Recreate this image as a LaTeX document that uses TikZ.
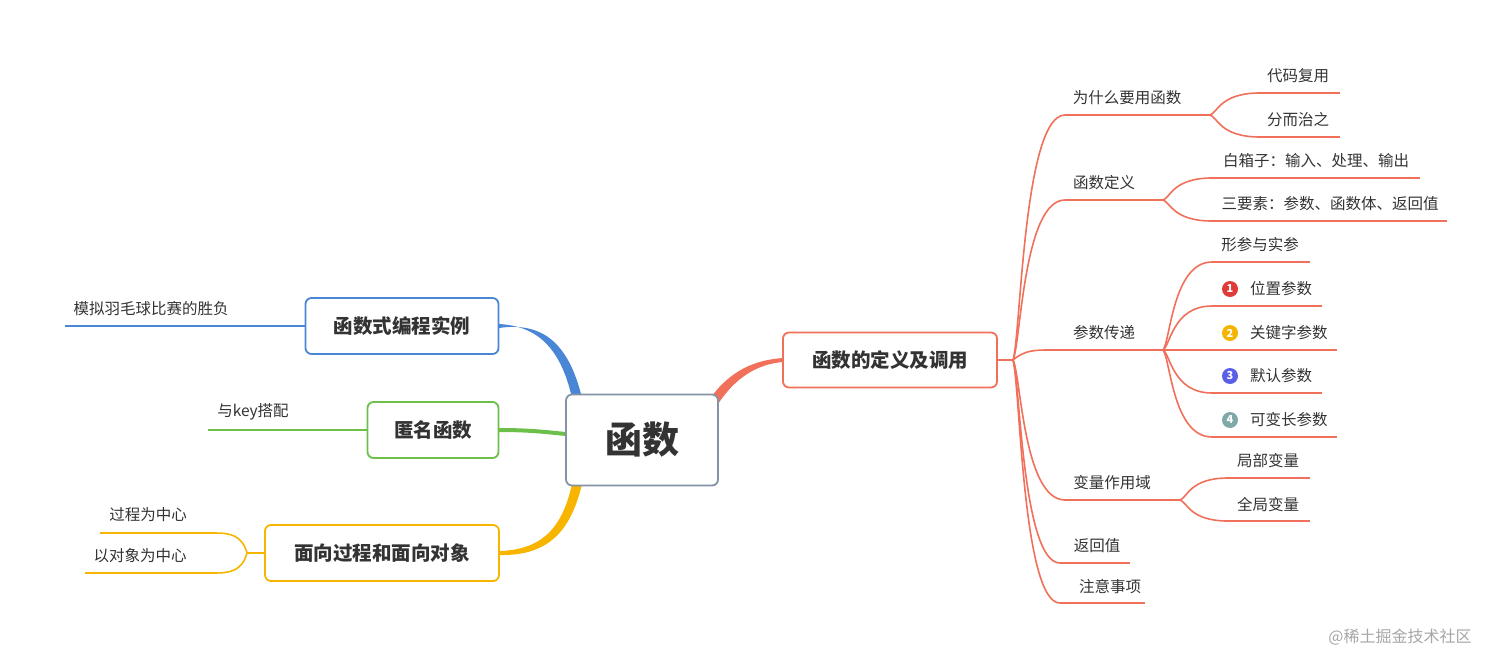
\documentclass[tikz,border=0pt]{standalone}
\usepackage{fontspec}
\setmainfont{Noto Sans CJK SC}
\usetikzlibrary{calc}
\definecolor{cr}{HTML}{F0705A}
\definecolor{cb}{HTML}{4A86D6}
\definecolor{cg}{HTML}{6CC04A}
\definecolor{cy}{HTML}{F7B500}
\definecolor{cgr}{HTML}{8592A6}
\definecolor{tx}{HTML}{333333}
\definecolor{n1}{HTML}{E03A3A}
\definecolor{n2}{HTML}{F5B400}
\definecolor{n3}{HTML}{5A5FE8}
\definecolor{n4}{HTML}{7FA8A8}
\newcommand{\brc}[5]{\draw[#1,line width=1.6pt] (#2,#3) .. controls ({#2+0.15*(#4-#2)},{#3+0.1*(#5-#3)}) and ({#2+0.2*(#4-#2)},#5) .. (#4,#5);}
\begin{document}
\begin{tikzpicture}[x=1pt,y=-1pt,
  box/.style={draw,rounded corners=6pt,line width=1.8pt,fill=white,text=tx,font=\bfseries\fontsize{19.5}{22}\selectfont,inner sep=0pt},
  lf/.style={text=tx,font=\fontsize{15.5}{18}\selectfont,inner sep=0pt},
  num/.style={circle,fill=#1,text=white,inner sep=0pt,minimum size=16pt,font=\bfseries\fontsize{11}{11}\selectfont}]
\useasboundingbox (0,0) rectangle (1512,669);
\fill[cr] (709,400) .. controls (730,370) and (755,360) .. (783,358) -- (783,362) .. controls (757,364) and (735,378) .. (718,404) -- cycle;
\fill[cb] (499,324) .. controls (535,326) and (560,345) .. (572,398) -- (582,398) .. controls (568,340) and (540,322) .. (499,328) -- cycle;
\draw[cg,line width=4pt] (499,430) .. controls (530,430) and (545,432) .. (566,434);
\fill[cy] (499,551) .. controls (540,550) and (562,530) .. (572,484) -- (582,484) .. controls (570,535) and (545,556) .. (499,555) -- cycle;
\node[box,draw=cgr,minimum width=152pt,minimum height=91pt,font=\bfseries\fontsize{37}{40}\selectfont] (c) at (642,440) {函数};
\node[box,draw=cr,minimum width=214pt,minimum height=55pt] (r) at (890,360) {函数的定义及调用};
\node[box,draw=cb,minimum width=193pt,minimum height=56pt] (b) at (402,326) {函数式编程实例};
\node[box,draw=cg,minimum width=131pt,minimum height=56pt] (g) at (433,430) {匿名函数};
\node[box,draw=cy,minimum width=234pt,minimum height=56pt] (y) at (382,553) {面向过程和面向对象};
\coordinate (bl) at (65,326); \draw[cb,line width=1.6pt] (b.west) -- (bl);
\node[lf] (bt) at (151,309) {模拟羽毛球比赛的胜负};
\coordinate (gl) at (208,430); \draw[cg,line width=1.6pt] (g.west) -- (gl);
\node[lf] (gt) at (253,412) {与key搭配};
\coordinate (yb) at (247,553);
\draw[cy,line width=1.6pt] (y.west) -- (yb);
\draw[cy,line width=1.6pt] (yb) .. controls (242,535) and (230,533) .. (215,533) -- (100,533);
\draw[cy,line width=1.6pt] (yb) .. controls (242,571) and (230,573) .. (215,573) -- (85,573);
\node[lf] (y1) at (148,515) {过程为中心};
\node[lf] (y2) at (140,556) {以对象为中心};
\draw[cr,line width=1.6pt] (r.east) -- (1013,360);
\brc{cr}{1013}{360}{1065}{115} \draw[cr,line width=1.6pt] (1065,115) -- (1210,115);
\brc{cr}{1013}{360}{1065}{200} \draw[cr,line width=1.6pt] (1065,200) -- (1163,200);
\draw[cr,line width=1.6pt] (1013,360) .. controls (1025,350) and (1035,350) .. (1050,350) -- (1163,350);
\brc{cr}{1013}{360}{1065}{500} \draw[cr,line width=1.6pt] (1065,500) -- (1180,500);
\brc{cr}{1013}{360}{1060}{563} \draw[cr,line width=1.6pt] (1060,563) -- (1130,563);
\brc{cr}{1013}{360}{1060}{603} \draw[cr,line width=1.6pt] (1060,603) -- (1145,603);
\node[lf] (a1) at (1127,98) {为什么要用函数};
\node[lf] (a2) at (1104,183) {函数定义};
\node[lf] (a3) at (1104,333) {参数传递};
\node[lf] (a4) at (1112,483) {变量作用域};
\node[lf] (a5) at (1097,546) {返回值};
\node[lf] (a6) at (1110,587) {注意事项};
\brc{cr}{1210}{115}{1260}{93} \draw[cr,line width=1.6pt] (1260,93) -- (1340,93);
\brc{cr}{1210}{115}{1260}{137} \draw[cr,line width=1.6pt] (1260,137) -- (1340,137);
\node[lf] at (1298,76) {代码复用};
\node[lf] at (1298,120) {分而治之};
\brc{cr}{1163}{200}{1212}{178} \draw[cr,line width=1.6pt] (1212,178) -- (1420,178);
\brc{cr}{1163}{200}{1212}{221} \draw[cr,line width=1.6pt] (1212,221) -- (1447,221);
\node[lf] at (1316,161) {白箱子：输入、处理、输出};
\node[lf] at (1330,204) {三要素：参数、函数体、返回值};
\brc{cr}{1163}{350}{1212}{262} \draw[cr,line width=1.6pt] (1212,262) -- (1310,262);
\brc{cr}{1163}{350}{1212}{306} \draw[cr,line width=1.6pt] (1212,306) -- (1322,306);
\draw[cr,line width=1.6pt] (1163,350) -- (1337,350);
\brc{cr}{1163}{350}{1212}{393} \draw[cr,line width=1.6pt] (1212,393) -- (1322,393);
\brc{cr}{1163}{350}{1212}{437} \draw[cr,line width=1.6pt] (1212,437) -- (1337,437);
\node[lf] at (1260,245) {形参与实参};
\node[num=n1] at (1230,289) {1}; \node[lf,anchor=west] at (1250,289) {位置参数};
\node[num=n2] at (1230,333) {2}; \node[lf,anchor=west] at (1250,333) {关键字参数};
\node[num=n3] at (1230,376) {3}; \node[lf,anchor=west] at (1250,376) {默认参数};
\node[num=n4] at (1230,420) {4}; \node[lf,anchor=west] at (1250,420) {可变长参数};
\brc{cr}{1180}{500}{1228}{478} \draw[cr,line width=1.6pt] (1228,478) -- (1310,478);
\brc{cr}{1180}{500}{1228}{521} \draw[cr,line width=1.6pt] (1228,521) -- (1310,521);
\node[lf] at (1268,461) {局部变量};
\node[lf] at (1268,505) {全局变量};
\node[text=gray!70,font=\fontsize{16}{18}\selectfont,inner sep=0pt] (wm) at (1400,637) {@稀土掘金技术社区};
\end{tikzpicture}
\end{document}
